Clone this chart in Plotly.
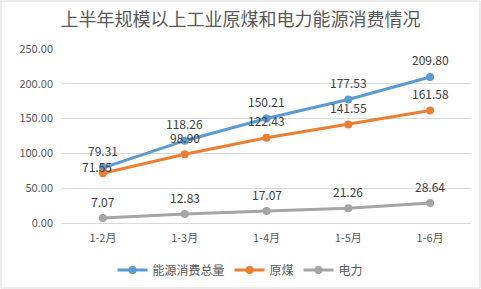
import plotly.graph_objects as go

# 数据
months = ["1-2月", "1-3月", "1-4月", "1-5月", "1-6月"]
energy_total = [79.31, 118.26, 150.21, 177.53, 209.80]
coal = [71.55, 98.90, 122.43, 141.55, 161.58]
power = [7.07, 12.83, 17.07, 21.26, 28.64]
y_ticks = [0, 50, 100, 150, 200, 250]

FONT = "Noto Sans CJK SC, Microsoft YaHei, sans-serif"
W, H = 481, 289
ML, MR, MT, MB = 62, 10, 49, 66

fig = go.Figure()
series = [
    ("能源消费总量", energy_total, "#5B9BD5"),
    ("原煤", coal, "#ED7D31"),
    ("电力", power, "#A5A5A5"),
]
for name, vals, color in series:
    fig.add_trace(go.Scatter(
        x=months, y=vals, name=name,
        mode="lines+markers",
        line=dict(color=color, width=3),
        marker=dict(color=color, size=8),
    ))
    # 数据标签
    for m, v in zip(months, vals):
        shift_y, shift_x = 17, 0
        if name == "原煤" and m == "1-2月":
            shift_y, shift_x = 7, -6
        fig.add_annotation(x=m, y=v, text=f"{v:.2f}", showarrow=False,
                           yanchor="middle", yshift=shift_y, xshift=shift_x,
                           font=dict(family=FONT, size=12, color="#404040"))

pw = W - ML - MR
ph = H - MT - MB
fig.add_shape(type="rect", xref="paper", yref="paper",
              x0=-(ML - 1) / pw, x1=1 + (MR - 1) / pw,
              y0=-(MB - 1) / ph, y1=1 + (MT - 1) / ph,
              line=dict(color="#D9D9D9", width=1), layer="below")

fig.update_layout(
    width=W, height=H,
    margin=dict(l=ML, r=MR, t=MT, b=MB, autoexpand=False),
    paper_bgcolor="white", plot_bgcolor="white",
    font=dict(family=FONT, color="#595959"),
    title=dict(text="上半年规模以上工业原煤和电力能源消费情况",
               x=0.5, xref="container", y=1 - 20 / H, yanchor="middle",
               font=dict(size=18, color="#595959")),
    showlegend=True,
    legend=dict(orientation="h", xref="container", x=0.5, xanchor="center",
                yref="container", y=1 - 270 / H, yanchor="middle",
                font=dict(size=12, color="#595959"),
                itemwidth=30, tracegroupgap=0),
    xaxis=dict(range=[-0.5, 4.5], showgrid=False, showline=True,
               linecolor="#D9D9D9", ticks="", ticklabelstandoff=5,
               tickfont=dict(size=11, color="#595959"), fixedrange=True),
    yaxis=dict(range=[0, 250], tickvals=y_ticks, tickformat=".2f",
               showgrid=True, gridcolor="#D9D9D9", zeroline=False,
               showline=False, ticks="", ticklabelstandoff=8,
               tickfont=dict(size=11, color="#595959"), fixedrange=True),
)

# 去掉页面默认边距, 让图从左上角开始
fig.write_html("out.html", config={"displayModeBar": False},
               post_script="document.body.style.margin='0';")
